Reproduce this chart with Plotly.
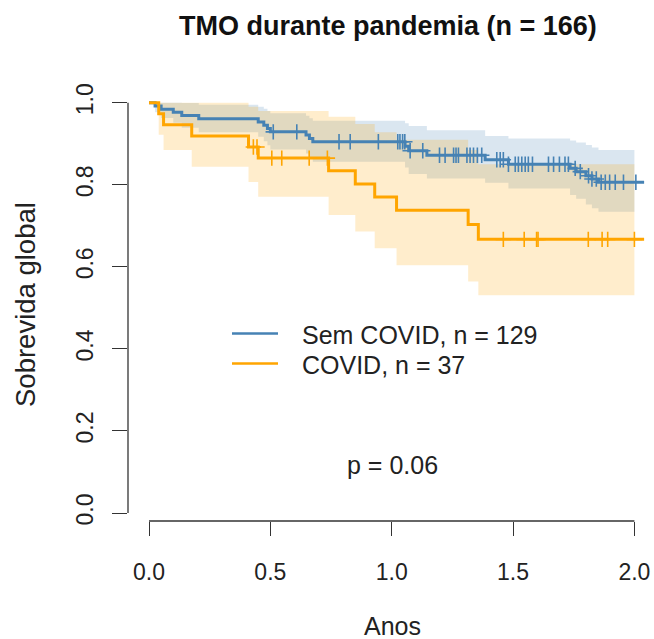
import numpy as np
import plotly.graph_objects as go

# ---------------- text ----------------
chart_title = "TMO durante pandemia (n = 166)"
x_title = "Anos"
y_title = "Sobrevida global"
group_labels = ["Sem COVID, n = 129", "COVID, n = 37"]
p_label = "p = 0.06"

x_ticks = [0.0, 0.5, 1.0, 1.5, 2.0]
x_tick_labels = ["0.0", "0.5", "1.0", "1.5", "2.0"]
y_ticks = [0.0, 0.2, 0.4, 0.6, 0.8, 1.0]
y_tick_labels = ["0.0", "0.2", "0.4", "0.6", "0.8", "1.0"]

# ---------------- Sem COVID (blue) ----------------
blue_t = [0, 0.025, 0.05, 0.10, 0.135, 0.205, 0.45, 0.473, 0.488, 0.50, 0.647, 0.661, 0.675,
          1.055, 1.07, 1.145, 1.385, 1.481, 1.735, 1.76, 1.80, 1.825, 1.852]
blue_s = [1.0, 0.992, 0.984, 0.977, 0.969, 0.961, 0.953, 0.945, 0.937, 0.929, 0.921, 0.913, 0.905,
          0.894, 0.883, 0.872, 0.861, 0.850, 0.840, 0.832, 0.822, 0.814, 0.806]
blue_lo = [1.0, 0.977, 0.963, 0.951, 0.939, 0.928, 0.917, 0.906, 0.896, 0.886, 0.876, 0.866, 0.856,
           0.842, 0.826, 0.815, 0.805, 0.791, 0.775, 0.766, 0.752, 0.743, 0.734]
blue_hi = [1.0, 1.0, 1.0, 1.0, 0.999, 0.995, 0.990, 0.985, 0.980, 0.974, 0.968, 0.962, 0.956,
           0.950, 0.943, 0.933, 0.919, 0.913, 0.908, 0.903, 0.897, 0.891, 0.885]
blue_censor = [0.512, 0.609, 0.783, 0.829, 0.945, 1.025, 1.034, 1.045, 1.054, 1.076, 1.128, 1.197,
               1.22, 1.255, 1.265, 1.275, 1.31, 1.323, 1.337, 1.353, 1.371, 1.433, 1.447, 1.46,
               1.481, 1.509, 1.522, 1.536, 1.55, 1.563, 1.58, 1.646, 1.667, 1.691, 1.714, 1.728,
               1.756, 1.777, 1.811, 1.825, 1.843, 1.863, 1.88, 1.898, 1.921, 1.955, 2.006]

# ---------------- COVID (orange) ----------------
orange_t = [0, 0.04, 0.06, 0.176, 0.41, 0.45, 0.74, 0.85, 0.93, 1.02, 1.315, 1.357]
orange_s = [1.0, 0.973, 0.946, 0.919, 0.892, 0.865, 0.834, 0.802, 0.770, 0.738, 0.703, 0.667]
orange_lo = [1.0, 0.922, 0.885, 0.844, 0.807, 0.771, 0.726, 0.686, 0.645, 0.604, 0.564, 0.531]
orange_hi = [1.0, 1.0, 1.0, 1.0, 0.990, 0.980, 0.966, 0.948, 0.928, 0.910, 0.885, 0.850]
orange_censor = [0.43, 0.445, 0.506, 0.547, 0.66, 0.735, 1.46, 1.546, 1.597, 1.603, 1.81,
                 1.867, 1.89, 2.0]

line_end = 2.04
band_end = 2.0

BLUE = "#4682B4"
ORANGE = "#FFA500"
BLUE_FILL = "rgba(70,130,180,0.2)"
ORANGE_FILL = "rgba(255,165,0,0.2)"
FONT = "Liberation Sans, Arial, sans-serif"
AX = "#333333"


def extend(t, v, end):
    return list(t) + [end], list(v) + [v[-1]]


def at_times(t, s, times):
    idx = np.searchsorted(np.array(t), np.array(times), side="right") - 1
    return [s[i] for i in idx]


fig = go.Figure()

for t, lo, hi, fillc in [(blue_t, blue_lo, blue_hi, BLUE_FILL),
                         (orange_t, orange_lo, orange_hi, ORANGE_FILL)]:
    bx, by_lo = extend(t, lo, band_end)
    _, by_hi = extend(t, hi, band_end)
    fig.add_trace(go.Scatter(x=bx, y=by_lo, mode="lines", line=dict(width=0, shape="hv"),
                             showlegend=False, hoverinfo="skip"))
    fig.add_trace(go.Scatter(x=bx, y=by_hi, mode="lines", line=dict(width=0, shape="hv"),
                             fill="tonexty", fillcolor=fillc, showlegend=False, hoverinfo="skip"))

for t, s, cens, col, name in [(blue_t, blue_s, blue_censor, BLUE, group_labels[0]),
                              (orange_t, orange_s, orange_censor, ORANGE, group_labels[1])]:
    lx, ly = extend(t, s, line_end)
    fig.add_trace(go.Scatter(x=lx, y=ly, mode="lines", line=dict(color=col, width=3, shape="hv"),
                             name=name, showlegend=False))
    fig.add_trace(go.Scatter(x=cens, y=at_times(t, s, cens), mode="markers",
                             marker=dict(symbol="cross-thin", size=11,
                                         line=dict(color=col, width=1.6)),
                             showlegend=False, hoverinfo="skip"))

# page geometry (body margin is removed by the post script)
W, H = 654, 639
# plot area in window pixels: x 128..654, y 86..521
L, R, T, B = 128, 0, 86, H - 521
pw, ph = W - L - R, H - T - B


def px(xp):
    return (xp - L) / pw


def py(yp):
    return (H - B - yp) / ph


shapes = [
    dict(type="line", xref="x", yref="paper", x0=x_ticks[0], x1=x_ticks[-1], y0=0, y1=0,
         line=dict(color=AX, width=1.3)),
    dict(type="line", xref="paper", yref="y", x0=0, x1=0, y0=y_ticks[0], y1=y_ticks[-1],
         line=dict(color=AX, width=1.3)),
    dict(type="line", xref="paper", yref="paper", x0=px(232), x1=px(278), y0=py(333.5), y1=py(333.5),
         line=dict(color=BLUE, width=2.5)),
    dict(type="line", xref="paper", yref="paper", x0=px(232), x1=px(278), y0=py(363.5), y1=py(363.5),
         line=dict(color=ORANGE, width=2.5)),
]

annotations = [
    dict(text="<b>" + chart_title + "</b>", xref="paper", yref="paper", x=px(388), y=py(26),
         showarrow=False, xanchor="center", yanchor="middle",
         font=dict(family=FONT, size=27, color="#111111")),
    dict(text=y_title, xref="paper", yref="paper", x=px(25), y=py(305), textangle=-90,
         showarrow=False, xanchor="center", yanchor="middle",
         font=dict(family=FONT, size=27.5, color="#222222")),
    dict(text=x_title, xref="paper", yref="paper", x=px(392), y=py(626),
         showarrow=False, xanchor="center", yanchor="middle",
         font=dict(family=FONT, size=25, color="#222222")),
    dict(text=group_labels[0], xref="paper", yref="paper", x=px(300), y=py(335),
         showarrow=False, xanchor="left", yanchor="middle",
         font=dict(family=FONT, size=25, color="#222222")),
    dict(text=group_labels[1], xref="paper", yref="paper", x=px(300), y=py(365),
         showarrow=False, xanchor="left", yanchor="middle",
         font=dict(family=FONT, size=25, color="#222222")),
    dict(text=p_label, xref="paper", yref="paper", x=px(392.5), y=py(465),
         showarrow=False, xanchor="center", yanchor="middle",
         font=dict(family=FONT, size=25, color="#222222")),
]

UX = 242.7   # px per year
UY = 410.3   # px per unit survival
x0_data = -(149 - 128) / UX
y0_data = -(521 - 513) / UY
fig.update_layout(
    width=W, height=H,
    margin=dict(l=L, r=R, t=T, b=B, pad=0),
    paper_bgcolor="white", plot_bgcolor="white",
    showlegend=False,
    shapes=shapes, annotations=annotations,
    xaxis=dict(range=[x0_data, x0_data + pw / UX], showgrid=False, zeroline=False,
               showline=False, ticks="outside", ticklen=14, tickwidth=1.3, tickcolor=AX,
               tickvals=x_ticks, ticktext=x_tick_labels, ticklabelstandoff=16,
               tickfont=dict(family=FONT, size=23, color="#222222"), automargin=False),
    yaxis=dict(range=[y0_data, y0_data + ph / UY], showgrid=False,
               zeroline=False, showline=False, ticks="outside", ticklen=15, tickwidth=1.3,
               tickcolor=AX, tickvals=y_ticks, ticktext=y_tick_labels, tickangle=-90,
               ticklabelstandoff=10,
               tickfont=dict(family=FONT, size=23, color="#222222"), automargin=False),
)

fig.write_html(
    "out.html",
    config={"displayModeBar": False},
    post_script="document.body.style.margin='0';"
                "document.body.style.padding='0';"
                "document.documentElement.style.overflow='hidden';",
)
